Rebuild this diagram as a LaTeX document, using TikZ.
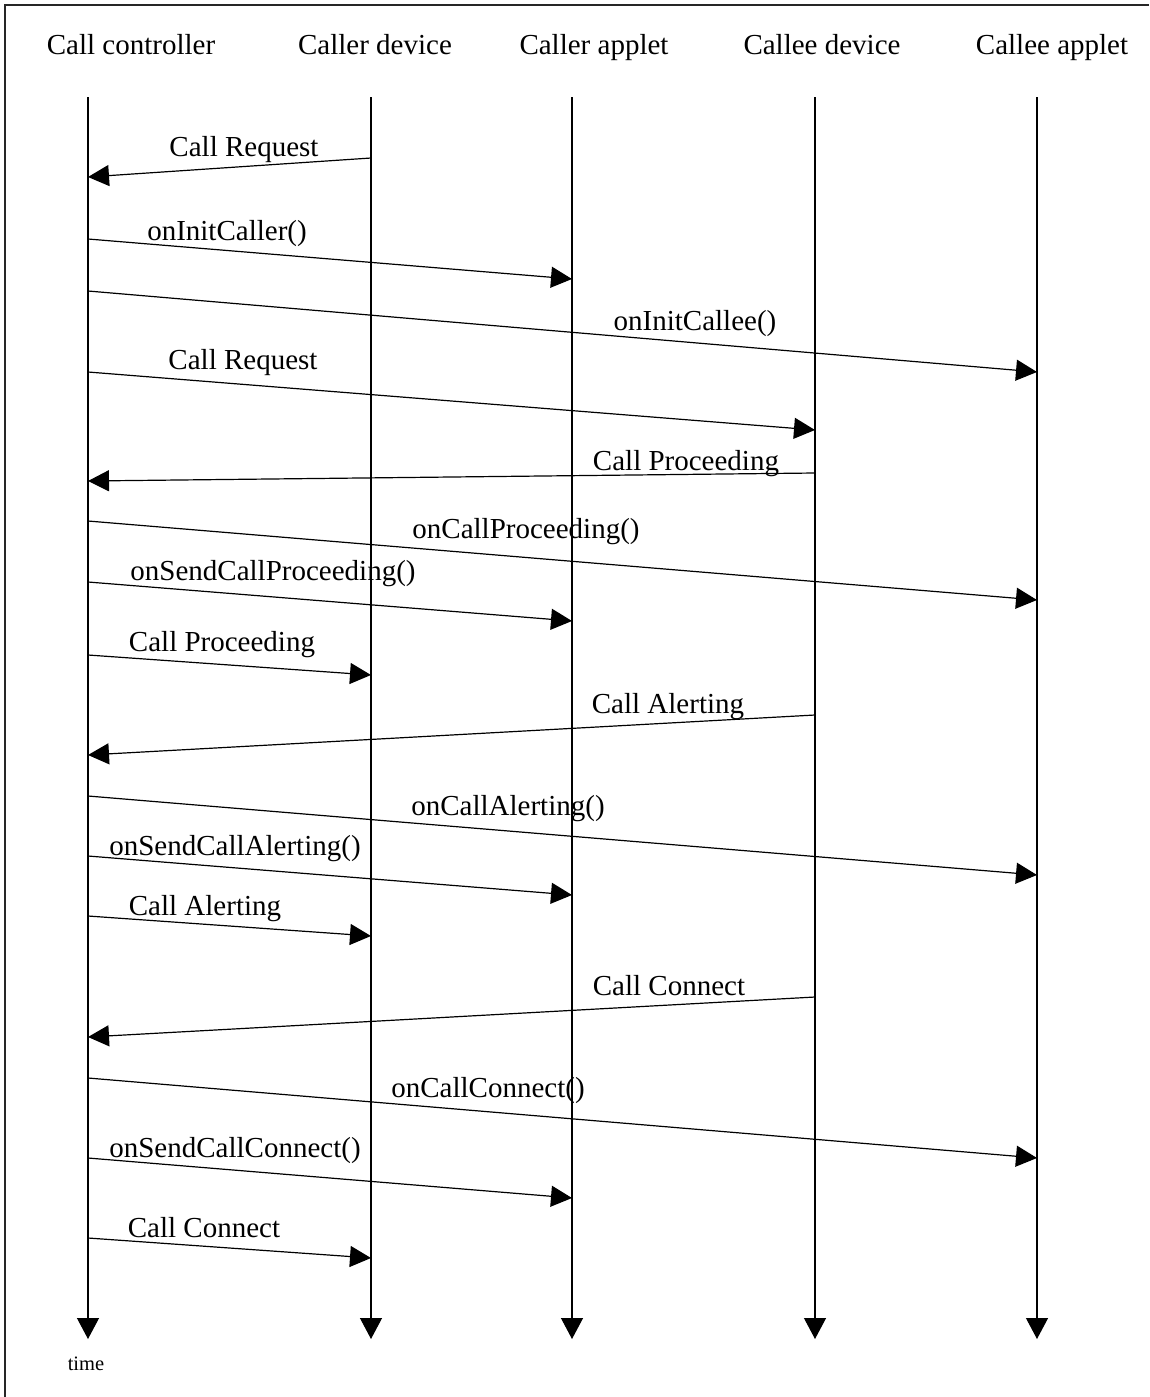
\documentclass[tikz,border=0pt]{standalone}
\usepackage{fontspec}
\setmainfont{Liberation Serif}
\usetikzlibrary{arrows.meta}
\begin{document}
\begin{tikzpicture}[x=1pt,y=-1pt,
  hdr/.style={anchor=base,inner sep=0pt,font=\fontsize{29}{34}\selectfont},
  lbl/.style={anchor=base,inner sep=0pt,font=\fontsize{29}{34}\selectfont},
  msg/.style={line width=1.2pt,-{Triangle[length=21pt,width=21pt]}},
  life/.style={line width=1.2pt,-{Triangle[length=21pt,width=22pt]}},
  frameline/.style={line width=1.3pt,draw=black!85}
]
\useasboundingbox (0,0) rectangle (1149,1397);
% frame (top and left edges visible)
\coordinate (fTR) at (1149,5);
\coordinate (fTL) at (5,5);
\coordinate (fBL) at (5,1397);
\draw[frameline] (fTR) -- (fTL) -- (fBL);

% headers
\node[hdr] (hCC) at (131,55) {Call controller};
\node[hdr] (hCD) at (375,55) {Caller device};
\node[hdr] (hCA) at (594,55) {Caller applet};
\node[hdr] (hED) at (822,55) {Callee device};
\node[hdr] (hEA) at (1052,55) {Callee applet};

% lifelines
\coordinate (cc0) at (88,97);   \coordinate (cc1) at (88,1339);
\coordinate (cd0) at (371,97);  \coordinate (cd1) at (371,1339);
\coordinate (ca0) at (572,97);  \coordinate (ca1) at (572,1339);
\coordinate (ed0) at (815,97);  \coordinate (ed1) at (815,1339);
\coordinate (ea0) at (1037,97); \coordinate (ea1) at (1037,1339);
\draw[life] (cc0) -- (cc1);
\draw[life] (cd0) -- (cd1);
\draw[life] (ca0) -- (ca1);
\draw[life] (ed0) -- (ed1);
\draw[life] (ea0) -- (ea1);

\node[anchor=base,inner sep=0pt,font=\fontsize{20.5}{24}\selectfont] (time) at (86,1370) {time};

% messages
\coordinate (m1s) at (371,158);  \coordinate (m1e) at (88,177);
\draw[msg] (m1s) -- (m1e);
\node[lbl] (l1) at (244,156) {Call Request};

\coordinate (m2s) at (88,239);   \coordinate (m2e) at (572,279);
\draw[msg] (m2s) -- (m2e);
\node[lbl] (l2) at (227,240) {onInitCaller()};

\coordinate (m3s) at (88,291);   \coordinate (m3e) at (1037,372);
\draw[msg] (m3s) -- (m3e);
\node[lbl] (l3) at (695,330) {onInitCallee()};

\coordinate (m4s) at (88,372);   \coordinate (m4e) at (815,430);
\draw[msg] (m4s) -- (m4e);
\node[lbl] (l4) at (243,369) {Call Request};

\coordinate (m5s) at (815,473);  \coordinate (m5e) at (88,481);
\draw[msg] (m5s) -- (m5e);
\node[lbl] (l5) at (686,470) {Call Proceeding};

\coordinate (m6s) at (88,521);   \coordinate (m6e) at (1037,600);
\draw[msg] (m6s) -- (m6e);
\node[lbl] (l6) at (526,538) {onCallProceeding()};

\coordinate (m7s) at (88,582);   \coordinate (m7e) at (572,621);
\draw[msg] (m7s) -- (m7e);
\node[lbl] (l7) at (273,580) {onSendCallProceeding()};

\coordinate (m8s) at (88,655);   \coordinate (m8e) at (371,675);
\draw[msg] (m8s) -- (m8e);
\node[lbl] (l8) at (222,651) {Call Proceeding};

\coordinate (m9s) at (815,715);  \coordinate (m9e) at (88,755);
\draw[msg] (m9s) -- (m9e);
\node[lbl] (l9) at (668,713) {Call Alerting};

\coordinate (m10s) at (88,796);  \coordinate (m10e) at (1037,875);
\draw[msg] (m10s) -- (m10e);
\node[lbl] (l10) at (508,815) {onCallAlerting()};

\coordinate (m11s) at (88,856);  \coordinate (m11e) at (572,895);
\draw[msg] (m11s) -- (m11e);
\node[lbl] (l11) at (235,855) {onSendCallAlerting()};

\coordinate (m12s) at (88,916);  \coordinate (m12e) at (371,936);
\draw[msg] (m12s) -- (m12e);
\node[lbl] (l12) at (205,915) {Call Alerting};

\coordinate (m13s) at (815,997); \coordinate (m13e) at (88,1037);
\draw[msg] (m13s) -- (m13e);
\node[lbl] (l13) at (669,995) {Call Connect};

\coordinate (m14s) at (88,1078); \coordinate (m14e) at (1037,1158);
\draw[msg] (m14s) -- (m14e);
\node[lbl] (l14) at (488,1097) {onCallConnect()};

\coordinate (m15s) at (88,1158); \coordinate (m15e) at (572,1198);
\draw[msg] (m15s) -- (m15e);
\node[lbl] (l15) at (235,1157) {onSendCallConnect()};

\coordinate (m16s) at (88,1238); \coordinate (m16e) at (371,1258);
\draw[msg] (m16s) -- (m16e);
\node[lbl] (l16) at (204,1237) {Call Connect};
\end{tikzpicture}
\end{document}
